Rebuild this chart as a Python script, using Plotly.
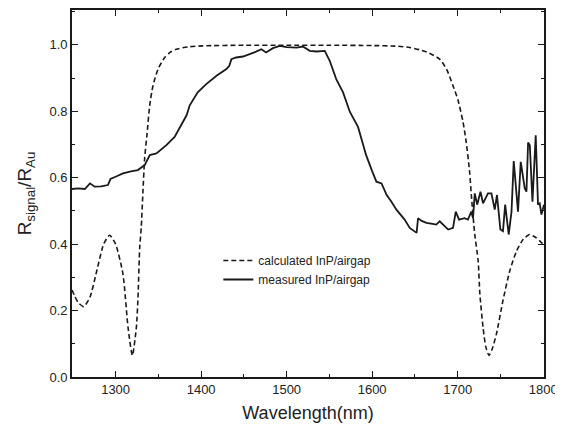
import plotly.graph_objects as go

# Calculated InP/airgap (dashed)
calc_wl = [1249, 1252, 1256, 1262.7, 1270, 1278, 1286, 1293, 1300, 1308.6, 1314.5, 1319.6,
           1324.3, 1326.2, 1328.2, 1330, 1332, 1334, 1336.7, 1339.9, 1343.7, 1349.6, 1357.4,
           1364, 1371, 1385, 1402, 1450, 1500, 1550, 1600, 1630, 1644, 1656, 1667, 1679,
           1687, 1694.6, 1700.5, 1706.3, 1710, 1714, 1716, 1720, 1724, 1726, 1729.7, 1733,
           1736.7, 1740.5, 1745.4, 1753, 1761, 1769, 1776.5, 1784, 1792, 1801]
calc_r = [0.262, 0.245, 0.225, 0.212, 0.24, 0.32, 0.40, 0.427, 0.40, 0.31, 0.15, 0.065,
          0.15, 0.24, 0.39, 0.45, 0.56, 0.66, 0.73, 0.818, 0.877, 0.927, 0.962,
          0.978, 0.987, 0.994, 0.997, 0.999, 0.999, 0.999, 0.998, 0.996, 0.992, 0.985, 0.975, 0.957,
          0.927, 0.877, 0.833, 0.768, 0.708, 0.618, 0.548, 0.43, 0.35, 0.25, 0.15, 0.09,
          0.065, 0.085, 0.13, 0.23, 0.32, 0.38, 0.414, 0.429, 0.419, 0.397]

# Measured InP/airgap (solid)
meas_wl = [1249, 1256, 1264, 1267, 1270, 1275.5, 1283, 1291, 1294, 1300, 1308.6, 1318, 1326,
           1334, 1340, 1347.7, 1353, 1359.4, 1369, 1377, 1383, 1386.7, 1390.5, 1396, 1406,
           1418, 1429.6, 1433, 1435.4, 1441, 1449, 1456.8, 1463, 1470.5, 1476, 1484, 1492,
           1500, 1511.5, 1519, 1527, 1535, 1544.6, 1550.4, 1558, 1566, 1574, 1583.5, 1589,
           1593, 1600, 1605, 1611, 1617, 1622, 1628.4, 1638, 1644, 1652, 1653.7, 1658,
           1663.5, 1669, 1675, 1679, 1685, 1689, 1694.6, 1697.8, 1701.6, 1708, 1712, 1716,
           1718, 1720, 1722.9, 1726.7, 1729.7, 1735.5, 1739.5, 1743.4, 1746, 1750, 1753,
           1755.6, 1759.7, 1763, 1765.6, 1770.6, 1773.8, 1778.5, 1780.5, 1782.4, 1784.4,
           1787.5, 1791.3, 1794, 1796, 1798, 1801]
meas_r = [0.566, 0.568, 0.566, 0.575, 0.583, 0.573, 0.574, 0.578, 0.596, 0.603, 0.613, 0.619, 0.623,
          0.638, 0.668, 0.673, 0.685, 0.698, 0.723, 0.758, 0.788, 0.818, 0.835, 0.857, 0.882,
          0.907, 0.927, 0.937, 0.957, 0.962, 0.965, 0.972, 0.978, 0.987, 0.977, 0.99, 0.997,
          0.993, 0.992, 0.995, 0.982, 0.98, 0.982, 0.952, 0.897, 0.857, 0.798, 0.753, 0.708,
          0.668, 0.62, 0.588, 0.583, 0.548, 0.53, 0.504, 0.474, 0.449, 0.434, 0.478, 0.47,
          0.464, 0.462, 0.459, 0.469, 0.454, 0.444, 0.449, 0.498, 0.474, 0.478, 0.474, 0.498,
          0.478, 0.553, 0.519, 0.558, 0.523, 0.553, 0.553, 0.504, 0.548, 0.444, 0.439,
          0.519, 0.429, 0.498, 0.650, 0.498, 0.648, 0.568, 0.558, 0.706, 0.698,
          0.528, 0.728, 0.519, 0.523, 0.489, 0.519]

x_ticks = [1300, 1400, 1500, 1600, 1700, 1800]
y_ticks = [0.0, 0.2, 0.4, 0.6, 0.8, 1.0]

fig = go.Figure()
fig.add_trace(go.Scatter(
    x=calc_wl, y=calc_r, mode="lines", name="calculated InP/airgap",
    line=dict(color="#1a1a1a", width=1.6, dash="5px,3px", shape="spline", smoothing=0.6),
))
fig.add_trace(go.Scatter(
    x=meas_wl, y=meas_r, mode="lines", name="measured InP/airgap",
    line=dict(color="#1a1a1a", width=1.8),
))

axis_common = dict(
    showline=True, linecolor="#1a1a1a", linewidth=1.6, mirror="ticks",
    ticks="inside", ticklen=6, tickwidth=1.4, tickcolor="#1a1a1a",
    showgrid=False, zeroline=False,
    tickfont=dict(family="Liberation Sans, Arial, sans-serif", size=13, color="#222"),
)

fig.update_layout(
    width=555, height=429,
    margin=dict(l=64, r=19, t=0, b=60, pad=0),
    plot_bgcolor="white", paper_bgcolor="white",
    font=dict(family="Liberation Sans, Arial, sans-serif", color="#222"),
    xaxis=dict(
        range=[1249, 1801], tickvals=x_ticks,
        minor=dict(dtick=50, tick0=1250, ticks="inside", ticklen=3, tickwidth=1.2, tickcolor="#1a1a1a"),
        title=dict(text="Wavelength(nm)", font=dict(size=18), standoff=10),
        **axis_common,
    ),
    yaxis=dict(
        range=[0, 1.105], tickvals=y_ticks, tickformat=".1f",
        minor=dict(dtick=0.1, tick0=0, ticks="inside", ticklen=3, tickwidth=1.2, tickcolor="#1a1a1a"),
        title=dict(text="R<sub>signal</sub>/R<sub>Au</sub>", font=dict(size=19), standoff=13),
        **axis_common,
    ),
    legend=dict(
        x=0.31, y=0.357, xanchor="left", yanchor="top",
        bgcolor="rgba(0,0,0,0)", font=dict(size=12, color="#222"),
        tracegroupgap=0, itemwidth=30,
    ),
    showlegend=True,
)

fig.write_html("out.html")
